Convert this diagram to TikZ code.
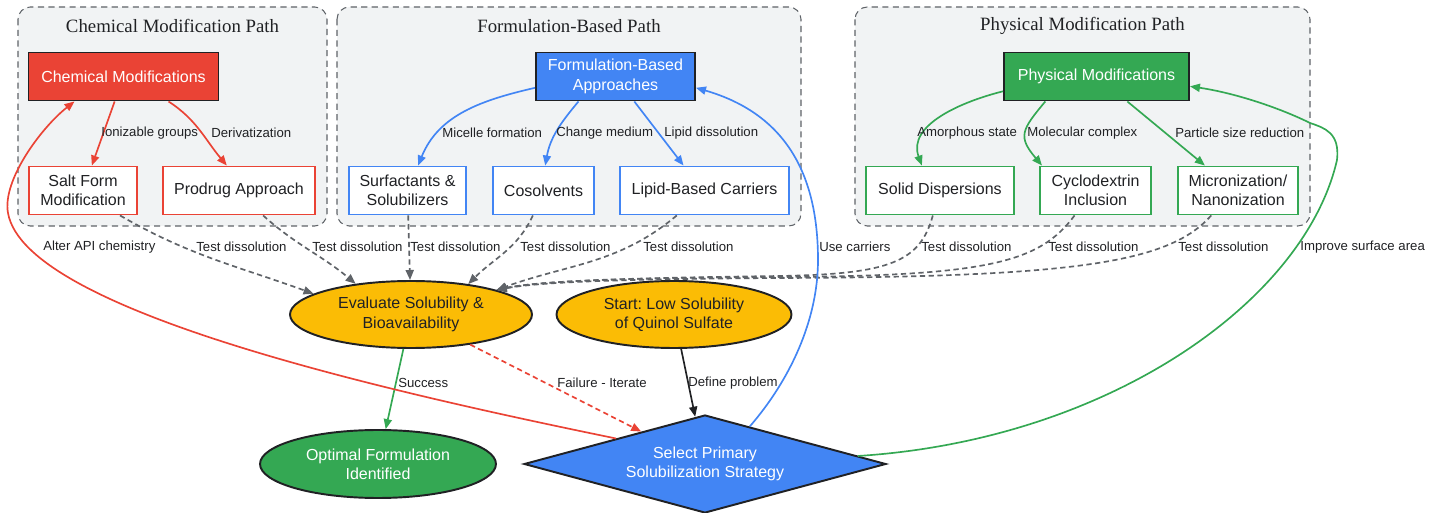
\documentclass[tikz,border=0pt]{standalone}
\usepackage{fontspec}
\setmainfont{Liberation Sans}
\newfontfamily\pathfont{Liberation Serif}
\usetikzlibrary{arrows.meta,shapes.geometric}

\definecolor{gred}{HTML}{EA4335}
\definecolor{gblue}{HTML}{4285F4}
\definecolor{ggreen}{HTML}{34A853}
\definecolor{gyellow}{HTML}{FBBC05}
\definecolor{ggray}{HTML}{5F6368}
\definecolor{gpanel}{HTML}{F1F3F4}
\definecolor{ink}{HTML}{202124}

\begin{document}
\frenchspacing
\begin{tikzpicture}[x=0.02cm, y=0.02cm, >={Triangle[length=5.7pt,width=4.6pt]},
  every node/.style={font=\fontsize{9.1}{11}\selectfont, text=ink, align=center},
  panel/.style={draw=ggray, fill=gpanel, dash pattern=on 3.5pt off 2.5pt, rounded corners=7pt, line width=0.6pt},
  paneltitle/.style={font=\pathfont\fontsize{10.7}{12}\selectfont},
  head/.style={rectangle, draw=ink, line width=1.1pt, fill=#1, text=white, minimum height=0.96cm, inner sep=0pt},
  method/.style={rectangle, draw=#1, line width=1.1pt, fill=white, minimum height=0.96cm, inner sep=0pt},
  oval/.style={ellipse, draw=ink, line width=1.1pt, fill=#1, inner sep=0pt},
  lbl/.style={font=\fontsize{7.5}{9}\selectfont, anchor=west, inner sep=0pt},
  link/.style={->, line width=0.95pt, draw=#1},
  test/.style={->, line width=0.95pt, draw=ggray, dash pattern=on 3pt off 2pt}]
  \useasboundingbox (0,0) rectangle (1445,-513);

  % the three paths
  \draw[panel] (18,-7) rectangle (327,-226);
  \draw[panel] (337,-7) rectangle (801,-226);
  \draw[panel] (855,-7) rectangle (1310,-226);
  \node[paneltitle] (chemtitle) at (172.5,-26) {Chemical Modification Path};
  \node[paneltitle] (formtitle) at (569,-26) {Formulation-Based Path};
  \node[paneltitle] (phystitle) at (1082.5,-26) {Physical Modification Path};

  \node[head=gred, minimum width=3.8cm] (chem) at (123.5,-76.5) {Chemical Modifications};
  \node[method=gred, minimum width=2.16cm] (salt) at (83,-190.5) {Salt Form\\Modification};
  \node[method=gred, minimum width=3.04cm] (prodrug) at (239,-190.5) {Prodrug Approach};

  \node[head=gblue, minimum width=3.18cm] (form) at (615.5,-76.5) {Formulation-Based\\Approaches};
  \node[method=gblue, minimum width=2.34cm] (surf) at (407.5,-190.5) {Surfactants \&\\Solubilizers};
  \node[method=gblue, minimum width=2.02cm] (cosolv) at (543.5,-190.5) {Cosolvents};
  \node[method=gblue, minimum width=3.38cm] (lipid) at (704.5,-190.5) {Lipid-Based Carriers};

  \node[head=ggreen, minimum width=3.7cm] (phys) at (1096.5,-76.5) {Physical Modifications};
  \node[method=ggreen, minimum width=2.96cm] (solid) at (940,-190.5) {Solid Dispersions};
  \node[method=ggreen, minimum width=2.22cm] (cyclo) at (1095.5,-190.5) {Cyclodextrin\\Inclusion};
  \node[method=ggreen, minimum width=2.4cm] (micro) at (1238,-190.5) {Micronization/\\Nanonization};

  % decision loop
  \node[oval=gyellow, minimum width=4.84cm, minimum height=1.34cm] (eval) at (411,-314.5) {Evaluate Solubility \&\\Bioavailability};
  \node[oval=gyellow, minimum width=4.7cm, minimum height=1.34cm] (start) at (674,-314.5) {Start: Low Solubility\\of Quinol Sulfate};
  \node[oval=ggreen, text=white, minimum width=4.72cm, minimum height=1.36cm] (optimal) at (378,-464) {Optimal Formulation\\Identified};
  \node[diamond, aspect=3.64, draw=ink, line width=1.1pt, fill=gblue, text=white, inner sep=0pt,
    minimum width=7.24cm, minimum height=1.96cm] (select) at (705,-464) {Select Primary\\Solubilization Strategy};

  \draw[link=gred] (chem) -- (salt);
  \draw[link=gred] (chem.-29) to[out=-33, in=130] (prodrug.116);
  \draw[link=gblue] (form.188) to[out=193, in=68] (surf.67);
  \draw[link=gblue] (form.-146) to[out=-130, in=80] (cosolv.86);
  \draw[link=gblue] (form.-53) -- (lipid.130);
  \draw[link=ggreen] (phys.189) to[out=194, in=110] (solid.126);
  \draw[link=ggreen] (phys.-154) to[out=-130, in=130, looseness=1.5] (cyclo.155);
  \draw[link=ggreen] (phys.-39) -- (micro.143);
  \node[lbl] (ionlbl) at (101,-133) {Ionizable groups};
  \node[lbl] (derlbl) at (211,-133) {Derivatization};
  \node[lbl] (miclbl) at (442,-133) {Micelle formation};
  \node[lbl] (medlbl) at (556,-133) {Change medium};
  \node[lbl] (lipdlbl) at (664,-133) {Lipid dissolution};
  \node[lbl] (amolbl) at (917,-133) {Amorphous state};
  \node[lbl] (mollbl) at (1027,-133) {Molecular complex};
  \node[lbl] (parlbl) at (1175,-133) {Particle size reduction};

  \draw[test] (salt.-34) to[out=-30, in=160] (eval.168);
  \draw[test] (prodrug.-46) to[out=-42, in=140] (eval.151);
  \draw[test] (surf) -- (eval);
  \draw[test] (cosolv.-113) to[out=-115, in=45] (eval.28);
  \draw[test] (lipid.-138) to[out=-140, in=20] (eval.16);
  \draw[test] (solid.-106) .. controls (920,-262) and (890,-274) .. (780,-276)
    .. controls (620,-278) and (540,-281) .. (eval.16);
  \draw[test] (cyclo.-130) .. controls (1040,-262) and (990,-276) .. (780,-277)
    .. controls (620,-278) and (540,-281) .. (eval.16);
  \draw[test] (micro.-137) .. controls (1170,-262) and (1080,-277) .. (780,-278)
    .. controls (620,-279) and (540,-282) .. (eval.16);
  \node[lbl] (t1) at (196,-247) {Test dissolution};
  \node[lbl] (t2) at (312,-247) {Test dissolution};
  \node[lbl] (t3) at (410,-247) {Test dissolution};
  \node[lbl] (t4) at (520,-247) {Test dissolution};
  \node[lbl] (t5) at (643,-247) {Test dissolution};
  \node[lbl] (t6) at (921,-247) {Test dissolution};
  \node[lbl] (t7) at (1048,-247) {Test dissolution};
  \node[lbl] (t8) at (1178,-247) {Test dissolution};

  \draw[link=ink] (start) -- (select);
  \draw[link=ggreen] (eval) -- (optimal);
  \draw[link=gred, dash pattern=on 3pt off 2pt] (eval) -- (select);
  \draw[link=gred] (select.164) .. controls (380,-390) and (25,-310) .. (8,-213)
    .. controls (2,-180) and (42,-127) .. (chem.207);
  \draw[link=gblue] (select.40) .. controls (790,-380) and (818,-320) .. (818,-260)
    .. controls (818,-180) and (790,-115) .. (form.-8);
  \draw[link=ggreen] (select.3) .. controls (1110,-440) and (1305,-300) .. (1337,-160)
    .. controls (1340,-133) and (1325,-128) .. (1310,-123)
    .. controls (1280,-108) and (1235,-93) .. (phys.-6);
  \node[lbl] (altlbl) at (43,-247) {Alter API chemistry};
  \node[lbl] (uselbl) at (819,-247) {Use carriers};
  \node[lbl] (implbl) at (1300,-247) {Improve surface area};
  \node[lbl] (suclbl) at (398,-383) {Success};
  \node[lbl] (faillbl) at (557,-383) {Failure - Iterate};
  \node[lbl] (deflbl) at (688,-383) {Define problem};
\end{tikzpicture}
\end{document}
